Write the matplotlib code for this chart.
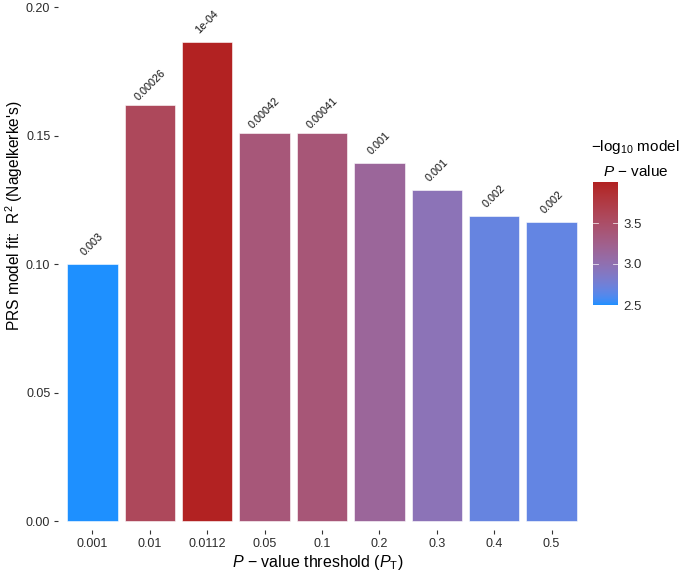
import numpy as np
import matplotlib
matplotlib.use("Agg")
import matplotlib.pyplot as plt
from matplotlib.colors import ListedColormap, Normalize, to_rgb

plt.rcParams['font.family'] = ['Liberation Sans', 'DejaVu Sans']
plt.rcParams['mathtext.fontset'] = 'custom'
plt.rcParams['mathtext.rm'] = 'Liberation Sans'
plt.rcParams['mathtext.it'] = 'Liberation Sans:italic'
plt.rcParams['mathtext.bf'] = 'Liberation Sans:bold'

# ---- data ----
thresholds = ["0.001", "0.01", "0.0112", "0.05", "0.1", "0.2", "0.3", "0.4", "0.5"]
r2 = [0.1000, 0.1619, 0.1864, 0.1510, 0.1510, 0.1393, 0.1288, 0.1187, 0.1163]
model_p = [0.00316, 0.00026, 0.0001, 0.00042, 0.00041, 0.0007, 0.0011, 0.0020, 0.0021]
p_labels = ["0.003", "0.00026", "1e-04", "0.00042", "0.00041", "0.001", "0.001", "0.002", "0.002"]
cbar_ticks = [2.5, 3.0, 3.5]

# ---- Lab-interpolated gradient (dodgerblue -> firebrick) ----
M = np.array([[0.4124, 0.3576, 0.1805], [0.2126, 0.7152, 0.0722], [0.0193, 0.1192, 0.9505]])
Minv = np.linalg.inv(M)
WP = np.array([0.95047, 1.0, 1.08883])

def to_lab(rgb):
    c = np.array(rgb)
    lin = np.where(c <= 0.04045, c / 12.92, ((c + 0.055) / 1.055) ** 2.4)
    xyz = M @ lin / WP
    f = np.where(xyz > 0.008856, np.cbrt(xyz), 7.787 * xyz + 16 / 116)
    return np.array([116 * f[1] - 16, 500 * (f[0] - f[1]), 200 * (f[1] - f[2])])

def from_lab(lab):
    L, a, b = lab
    fy = (L + 16) / 116
    fx = fy + a / 500
    fz = fy - b / 200
    f = np.array([fx, fy, fz])
    xyz = np.where(f ** 3 > 0.008856, f ** 3, (f - 16 / 116) / 7.787) * WP
    lin = Minv @ xyz
    lin = np.clip(lin, 0, 1)
    c = np.where(lin <= 0.0031308, 12.92 * lin, 1.055 * lin ** (1 / 2.4) - 0.055)
    return np.clip(c, 0, 1)

lo = to_lab(to_rgb("#1E90FF"))
hi = to_lab(to_rgb("#B22222"))
cols = [from_lab(lo + (hi - lo) * t) for t in np.linspace(0, 1, 256)]
cmap = ListedColormap(cols)

vals = -np.log10(np.array(model_p))
norm = Normalize(vmin=vals.min(), vmax=vals.max())

W, H = 685, 574
fig = plt.figure(figsize=(W / 100, H / 100), dpi=100)
ax = fig.add_axes([58 / W, (H - 530) / H, (586 - 58) / W, (530 - 3) / H])

x = np.arange(1, len(thresholds) + 1)
ax.bar(x, r2, width=0.88, color=cmap(norm(vals)), edgecolor='white', linewidth=0.4)
for xi, yi, lab in zip(x, r2, p_labels):
    ax.text(xi, yi + 0.0078, lab, rotation=45, ha='center', va='center', fontsize=7.8, color='#111111')

ax.set_xlim(0.4, 9.6)
ax.set_ylim(-0.0035, 0.2016)
ax.set_xticks(x)
ax.set_xticklabels(thresholds)
ax.set_yticks([0.0, 0.05, 0.10, 0.15, 0.20])
ax.set_yticklabels(["0.00", "0.05", "0.10", "0.15", "0.20"])
for s in ax.spines.values():
    s.set_visible(False)
ax.tick_params(axis='both', length=3, width=0.8, color='#333333', labelsize=9, labelcolor='#2b2b2b', pad=2.5)

fig.text(14 / W, 1 - 216 / H, "PRS model fit:  R$^2$ (Nagelkerke's)", fontsize=11.2,
         rotation=90, ha='center', va='center')
fig.text(318 / W, 1 - 562 / H, "$P$ − value threshold ($P_{\\mathrm{T}}$)", fontsize=11.5,
         ha='center', va='center')

# colorbar
cax = fig.add_axes([593 / W, (H - 305) / H, 25 / W, 123 / H])
grad = np.linspace(norm.vmin, norm.vmax, 256).reshape(-1, 1)
cax.imshow(grad, aspect='auto', origin='lower', cmap=cmap, norm=norm,
           extent=[0, 1, norm.vmin, norm.vmax])
cax.set_xlim(0, 1)
cax.set_ylim(norm.vmin, norm.vmax)
for t in cbar_ticks:
    cax.plot([0, 0.2], [t, t], color='white', lw=0.6, alpha=0.8)
    cax.plot([0.8, 1], [t, t], color='white', lw=0.6, alpha=0.8)
cax.set_xticks([])
cax.set_yticks(cbar_ticks)
cax.set_yticklabels([f"{t:.1f}" for t in cbar_ticks])
cax.yaxis.tick_right()
cax.tick_params(axis='y', length=0, labelsize=9.5, labelcolor='#2b2b2b', pad=4)
for s in cax.spines.values():
    s.set_visible(False)

fig.text(635 / W, 1 - 147 / H, "−log$_{10}$ model", fontsize=11, ha='center', va='center')
fig.text(636 / W, 1 - 172 / H, "$P$ − value", fontsize=11, ha='center', va='center')

fig.savefig("out.png", dpi=100)
